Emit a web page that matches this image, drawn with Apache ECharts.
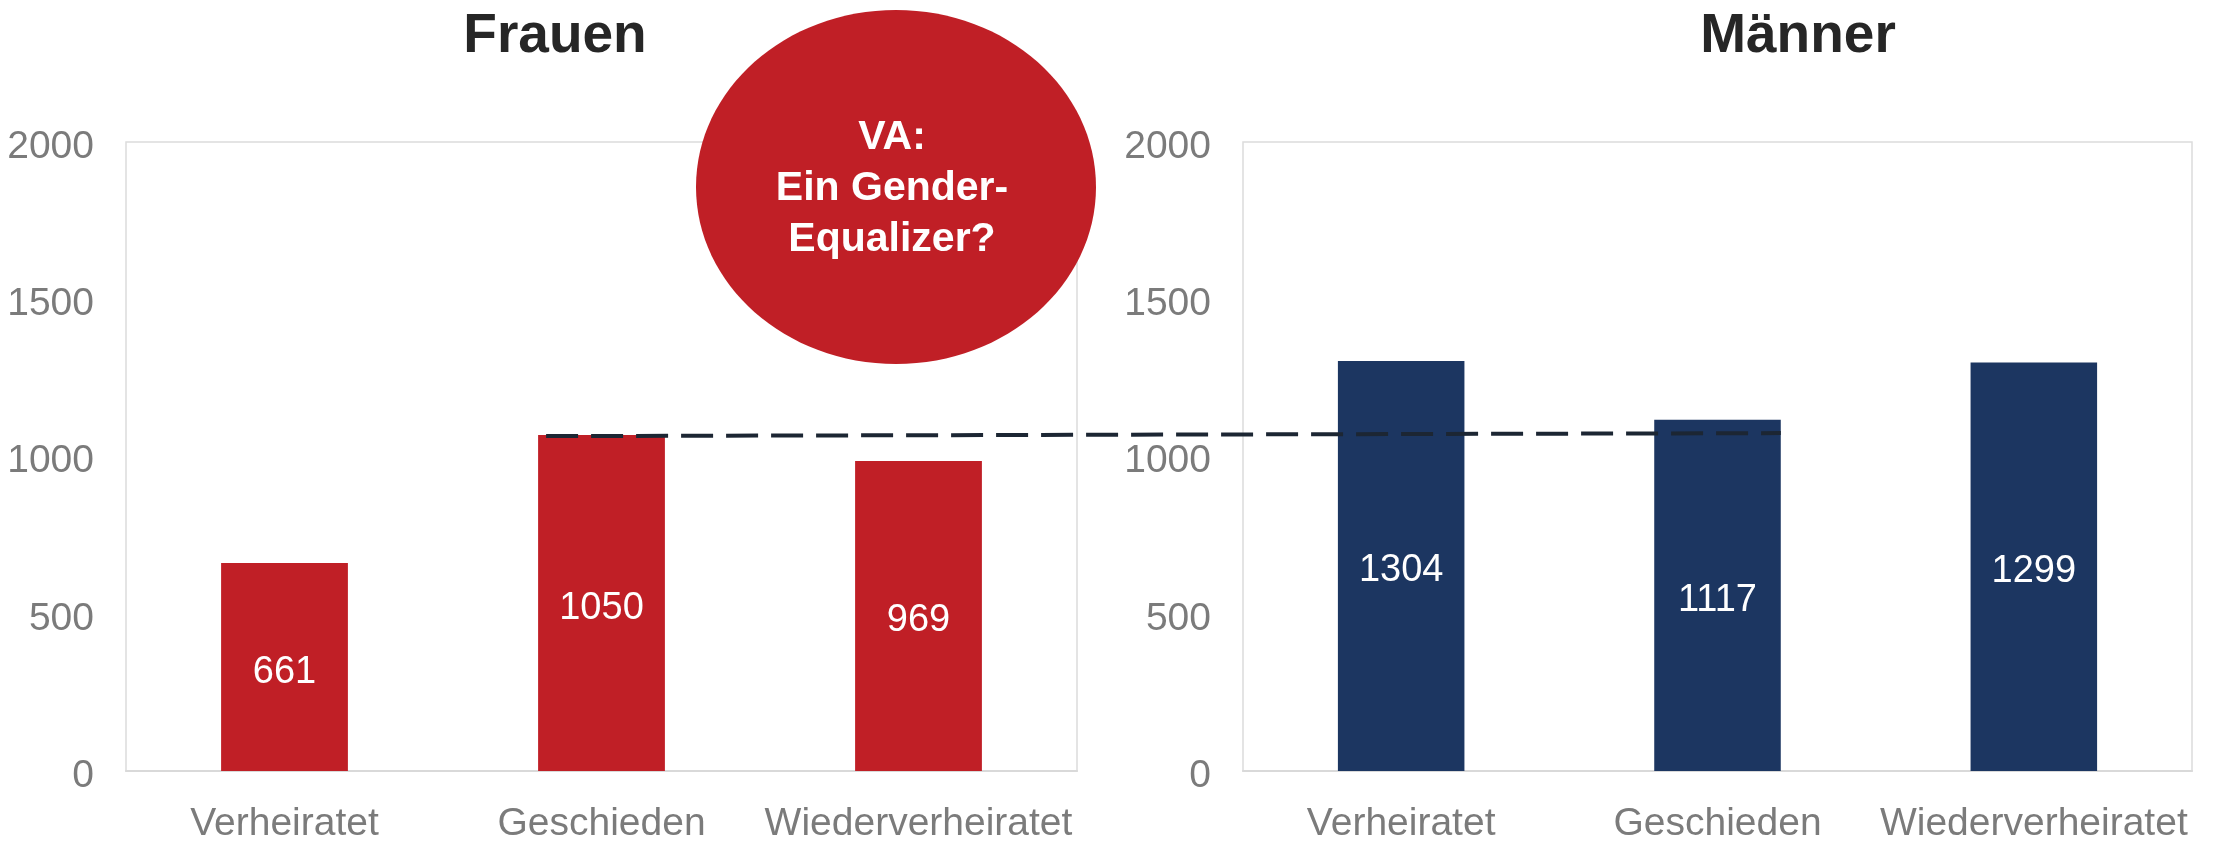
<!DOCTYPE html>
<html>
<head>
<meta charset="utf-8">
<script src="https://cdn.jsdelivr.net/npm/echarts@6/dist/echarts.min.js"></script>
<style>
  html, body { margin: 0; padding: 0; background: #ffffff; }
  #chart { width: 2219px; height: 841px; }
</style>
</head>
<body>
<div id="chart"></div>
<script>
// ---- data ----
const categories = ['Verheiratet', 'Geschieden', 'Wiederverheiratet'];
const womenValues = [661, 1068, 986];        // bar heights as drawn
const womenLabels = ['661', '1050', '969'];  // printed labels
const menValues = [1304, 1117, 1299];
const menLabels = ['1304', '1117', '1299'];
const yTicks = [0, 500, 1000, 1500, 2000];
const panelTitles = ['Frauen', 'Männer'];
const bubbleText = 'VA:\nEin Gender-\nEqualizer?';

const FONT = "'Liberation Sans', Arial, Helvetica, sans-serif";
const RED = '#c01f26';
const NAVY = '#1c3661';
const GREY = '#7b7b7b';

const chart = echarts.init(document.getElementById('chart'), null, { renderer: 'canvas' });

function yAxis(gridIndex) {
  return {
    type: 'value', gridIndex: gridIndex,
    min: yTicks[0], max: yTicks[yTicks.length - 1], interval: yTicks[1] - yTicks[0],
    splitLine: { show: false },
    axisLine: { show: false }, axisTick: { show: false },
    axisLabel: { color: GREY, fontSize: 39, fontFamily: FONT, margin: 32,
                 verticalAlign: 'top', lineHeight: 10,
                 formatter: v => String(v) }
  };
}
function xAxis(gridIndex) {
  return {
    type: 'category', gridIndex: gridIndex, data: categories,
    axisTick: { show: false },
    axisLine: { show: true, lineStyle: { color: '#d9d9d9', width: 2 } },
    axisLabel: { color: GREY, fontSize: 39, fontFamily: FONT, margin: 34, interval: 0 }
  };
}
function barSeries(idx, values, labels, color) {
  return {
    type: 'bar', xAxisIndex: idx, yAxisIndex: idx,
    data: values, barWidth: '40%',
    itemStyle: { color: color },
    label: { show: true, position: 'inside', color: '#ffffff', fontSize: 38, fontFamily: FONT,
             offset: [0, 5],
             formatter: p => labels[p.dataIndex] },
    z: 2
  };
}

const option = {
  backgroundColor: '#ffffff',
  animation: false,
  grid: [
    { left: 126, top: 142, width: 951, height: 629, show: true, borderColor: '#dcdcdc', borderWidth: 1.5,
      backgroundColor: 'transparent', containLabel: false, outerBoundsMode: 'none' },
    { left: 1243, top: 142, width: 949, height: 629, show: true, borderColor: '#dcdcdc', borderWidth: 1.5,
      backgroundColor: 'transparent', containLabel: false, outerBoundsMode: 'none' }
  ],
  xAxis: [xAxis(0), xAxis(1)],
  yAxis: [yAxis(0), yAxis(1)],
  series: [
    barSeries(0, womenValues, womenLabels, RED),
    barSeries(1, menValues, menLabels, NAVY)
  ],
  graphic: [
    { type: 'text', x: 555, y: 37, z: 10,
      style: { text: panelTitles[0], fill: '#262626', font: 'bold 55px ' + FONT, textAlign: 'center', textVerticalAlign: 'middle' } },
    { type: 'text', x: 1798, y: 37, z: 10,
      style: { text: panelTitles[1], fill: '#262626', font: 'bold 55px ' + FONT, textAlign: 'center', textVerticalAlign: 'middle' } },
    { type: 'ellipse', z: 20,
      shape: { cx: 896, cy: 187, rx: 200, ry: 177 },
      style: { fill: RED } },
    { type: 'text', x: 892, y: 189, z: 21,
      style: { text: bubbleText, fill: '#ffffff', font: 'bold 41px ' + FONT, lineHeight: 51,
               textAlign: 'center', textVerticalAlign: 'middle' } }
  ]
};
chart.setOption(option);

// Dashed reference line: from the top of the women's "Geschieden" bar
// across to the right edge of the men's "Geschieden" bar, positioned via the axes' scales.
const pW = chart.convertToPixel({ xAxisIndex: 0, yAxisIndex: 0 }, [categories[1], womenValues[1]]);
const pW0 = chart.convertToPixel({ xAxisIndex: 0, yAxisIndex: 0 }, [categories[0], 0]);
const catW = pW[0] - pW0[0];
const pM = chart.convertToPixel({ xAxisIndex: 1, yAxisIndex: 1 }, [categories[1], 0]);
const pM0 = chart.convertToPixel({ xAxisIndex: 1, yAxisIndex: 1 }, [categories[0], 0]);
const catM = pM[0] - pM0[0];
chart.setOption({
  graphic: option.graphic.concat([
    { type: 'line', z: 15,
      shape: { x1: pW[0] - catW * 0.2 + 8, y1: pW[1] + 1, x2: pM[0] + catM * 0.2, y2: pW[1] - 2 },
      style: { stroke: '#1c2633', lineWidth: 4, lineDash: [32, 13] } }
  ])
});
</script>
</body>
</html>
